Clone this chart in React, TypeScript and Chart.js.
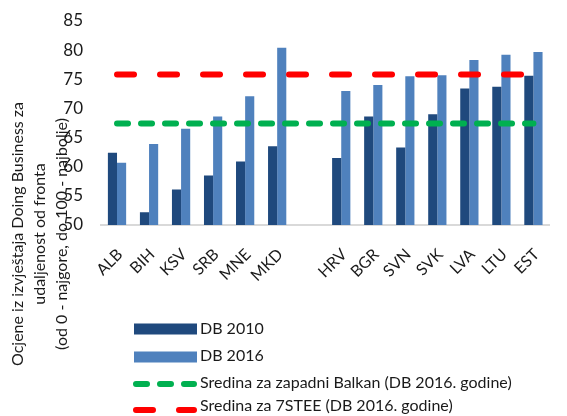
import React, { useEffect, useRef } from "react";
import { Chart, registerables } from "chart.js";

Chart.register(...registerables);

const categories = ["ALB", "BIH", "KSV", "SRB", "MNE", "MKD", "", "HRV", "BGR", "SVN", "SVK", "LVA", "LTU", "EST"];
const db2010 = [62.4, 52.2, 56.1, 58.5, 60.9, 63.5, null, 61.5, 68.6, 63.3, 69.0, 73.4, 73.7, 75.6];
const db2016 = [60.7, 63.9, 66.5, 68.6, 72.1, 80.4, null, 73.0, 74.0, 75.5, 75.7, 78.3, 79.2, 79.7];
const westernBalkanAvg = 67.4;
const steeAvg = 75.8;
const seriesLabels = [
  "DB 2010",
  "DB 2016",
  "Sredina za zapadni Balkan (DB 2016. godine)",
  "Sredina za 7STEE (DB 2016. godine)",
];
const yTitleLines = [
  "Ocjene iz izvještaja Doing Business za",
  "udaljenost od fronta",
  "(od 0 - najgore, do 100 - najbolje)",
];
const yMin = 50;
const yMax = 85;
const yStep = 5;

const FONT = "Lato, 'Open Sans', sans-serif";
const TEXT = "#1a1a1a";

const overlayPlugin = {
  id: "overlay",
  afterDraw(chart: any) {
    const ctx = chart.ctx;
    ctx.save();
    ctx.fillStyle = TEXT;
    ctx.font = `16px ${FONT}`;
    ctx.textAlign = "center";
    ctx.textBaseline = "middle";
    const titleX = [18, 40, 62];
    yTitleLines.forEach((line, i) => {
      ctx.save();
      ctx.translate(titleX[i], 234);
      ctx.rotate(-Math.PI / 2);
      ctx.fillText(line, 0, 0);
      ctx.restore();
    });
    const markY = [329, 357, 384, 410];
    const textY = [329, 356, 383, 406];
    chart.data.datasets.forEach((ds: any, i: number) => {
      const cy = markY[i];
      if (ds.type === "line") {
        ctx.save();
        ctx.strokeStyle = ds.borderColor;
        ctx.lineWidth = ds.borderWidth;
        ctx.lineCap = "round";
        ctx.setLineDash(ds.borderDash);
        ctx.beginPath();
        ctx.moveTo(136, cy);
        ctx.lineTo(194, cy);
        ctx.stroke();
        ctx.restore();
      } else {
        ctx.fillStyle = ds.backgroundColor;
        ctx.fillRect(134, cy - 5.5, 63, 11);
      }
      ctx.fillStyle = TEXT;
      ctx.font = `16px ${FONT}`;
      ctx.textAlign = "left";
      ctx.textBaseline = "middle";
      ctx.fillText(ds.label, 200, textY[i]);
    });
    ctx.restore();
  },
};

export default function App() {
  const ref = useRef<HTMLCanvasElement>(null);
  useEffect(() => {
    if (!ref.current) return;
    const first = categories[0];
    const last = categories[categories.length - 1];
    const chart = new Chart(ref.current, {
      type: "bar",
      data: {
        labels: categories,
        datasets: [
          {
            type: "bar",
            label: seriesLabels[0],
            data: db2010,
            backgroundColor: "#1F497D",
            categoryPercentage: 0.57,
            barPercentage: 1,
            order: 2,
          },
          {
            type: "bar",
            label: seriesLabels[1],
            data: db2016,
            backgroundColor: "#4F81BD",
            categoryPercentage: 0.57,
            barPercentage: 1,
            order: 2,
          },
          {
            type: "line",
            label: seriesLabels[2],
            data: [
              { x: first, y: westernBalkanAvg },
              { x: last, y: westernBalkanAvg },
            ],
            borderColor: "#00B050",
            borderWidth: 6,
            borderDash: [11, 13],
            borderCapStyle: "round",
            pointRadius: 0,
            fill: false,
            order: 1,
          },
          {
            type: "line",
            label: seriesLabels[3],
            data: [
              { x: first, y: steeAvg },
              { x: last, y: steeAvg },
            ],
            borderColor: "#FF0000",
            borderWidth: 6,
            borderDash: [17, 26],
            borderCapStyle: "round",
            pointRadius: 0,
            fill: false,
            order: 0,
          },
        ] as any,
      },
      options: {
        responsive: false,
        animation: false,
        devicePixelRatio: 1,
        layout: { padding: { top: 21, right: 0, left: 0, bottom: 0 } },
        plugins: {
          legend: { display: false },
          tooltip: { enabled: false },
        },
        scales: {
          x: {
            grid: { display: false, drawTicks: false },
            border: { display: true, color: "#D9D9D9", width: 2 },
            ticks: {
              color: TEXT,
              font: { family: FONT, size: 16 },
              minRotation: 45,
              maxRotation: 45,
              padding: 20,
              labelOffset: 3,
              autoSkip: false,
            },
            afterFit: (s: any) => {
              s.height = 416 - 225;
            },
          },
          y: {
            min: yMin,
            max: yMax,
            grid: { display: false, drawTicks: false },
            border: { display: false },
            ticks: {
              stepSize: yStep,
              color: TEXT,
              font: { family: FONT, size: 17 },
              padding: 18,
            },
            afterFit: (s: any) => {
              s.width = 101;
              s.paddingTop = 0;
              s.paddingBottom = 0;
            },
          },
        },
      } as any,
      plugins: [overlayPlugin],
    });
    return () => chart.destroy();
  }, []);
  return (
    <div style={{ position: "fixed", left: 0, top: 0, width: 567, height: 416, background: "#fff" }}>
      <canvas ref={ref} width={567} height={416} />
    </div>
  );
}
